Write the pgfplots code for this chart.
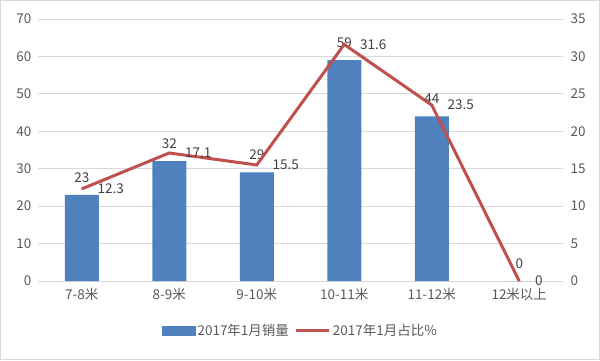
\documentclass[border=0pt]{standalone}
\usepackage{pgfplots}
\pgfplotsset{compat=1.18}
\usepackage{fontspec}
\setmainfont{Noto Sans CJK SC}
\definecolor{barblue}{HTML}{4F81BD}
\definecolor{linered}{HTML}{C0504D}
\definecolor{gridgray}{HTML}{D9D9D9}
\definecolor{textgray}{HTML}{595959}
\definecolor{labelgray}{HTML}{404040}
\begin{document}
\begin{tikzpicture}[x=1pt,y=1pt]
\useasboundingbox (-38,-79) rectangle (562,281);
\draw[color=gridgray, line width=1pt] (-37.5,-78.5) rectangle (561.5,280.5);
\pgfplotsset{
  common/.style={
    at={(0,0)}, anchor=south west, scale only axis,
    width=525pt, height=262pt,
    xmin=-0.5, xmax=5.5,
    /pgf/number format/assume math mode=true,
    axis line style={draw=none},
    major tick length=0pt,
    tick label style={font=\fontsize{13.5}{15}\selectfont, text=textgray},
  }
}
\begin{axis}[common,
  ymin=0, ymax=70, ytick={0,10,...,70},
  ymajorgrids, grid style={gridgray, line width=0.8pt},
  xtick={0,...,5},
  xticklabels={7-8米,8-9米,9-10米,10-11米,11-12米,12米以上},
  xticklabel style={yshift=-4pt},
  yticklabel style={xshift=-3pt},
  ybar, bar width=34pt,
  nodes near coords,
  every node near coord/.append style={anchor=south, yshift=9pt, font=\fontsize{13.5}{15}\selectfont, text=labelgray},
]
\addplot[ybar, fill=barblue, draw=none] coordinates {(0,23) (1,32) (2,29) (3,59) (4,44) (5,0)};
\end{axis}
\begin{axis}[common,
  ymin=0, ymax=35, ytick={0,5,...,35},
  axis y line*=right, axis x line=none,
  yticklabel style={xshift=4pt},
  legend style={at={(0.5,-0.19)}, anchor=center, draw=none, fill=none,
    legend columns=2, font=\fontsize{13.5}{15}\selectfont, text=textgray,
    /tikz/every even column/.append style={column sep=4pt}},
  legend cell align=left,
]
\addlegendimage{legend image code/.code={\fill[barblue] (0pt,-4.5pt) rectangle (33pt,4.5pt);}}
\addlegendentry{2017年1月销量}
\addplot[linered, line width=3pt, mark=none,
  legend image code/.code={\draw[linered, line width=3pt] (0pt,0pt) -- (33pt,0pt);},
  nodes near coords,
  every node near coord/.append style={anchor=west, xshift=11pt, yshift=0pt, font=\fontsize{13.5}{15}\selectfont, text=labelgray},
] coordinates {(0,12.3) (1,17.1) (2,15.5) (3,31.6) (4,23.5) (5,0)};
\addlegendentry{2017年1月占比\%}
\end{axis}
\end{tikzpicture}
\end{document}
